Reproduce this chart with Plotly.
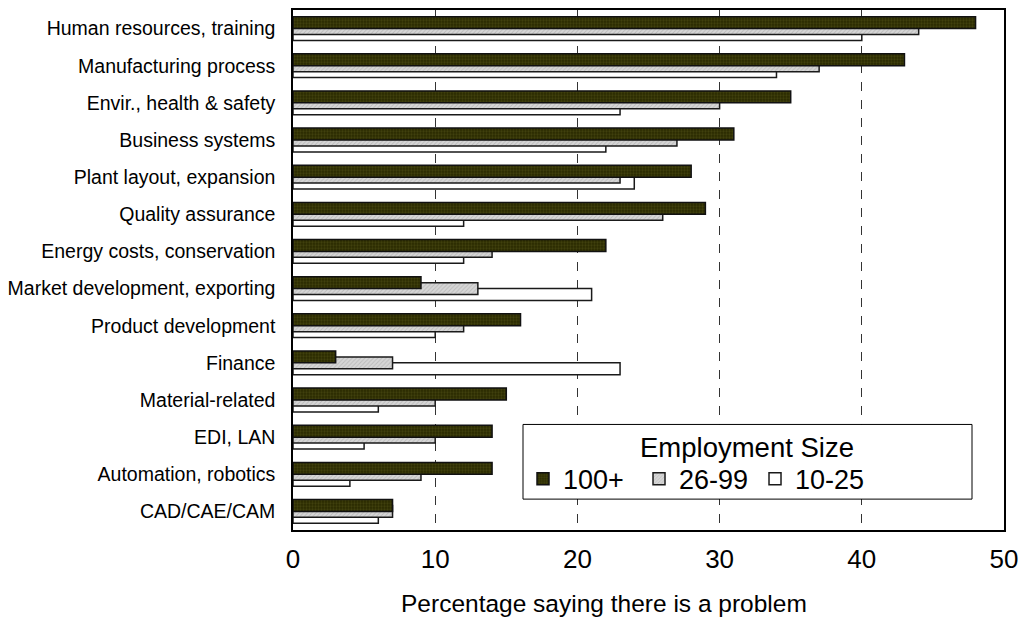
import plotly.graph_objects as go

categories = [
    "Human resources, training",
    "Manufacturing process",
    "Envir., health & safety",
    "Business systems",
    "Plant layout, expansion",
    "Quality assurance",
    "Energy costs, conservation",
    "Market development, exporting",
    "Product development",
    "Finance",
    "Material-related",
    "EDI, LAN",
    "Automation, robotics",
    "CAD/CAE/CAM",
]

size_100_plus = [48, 43, 35, 31, 28, 29, 22, 9, 16, 3, 15, 14, 14, 7]
size_26_99 = [44, 37, 30, 27, 23, 26, 14, 13, 12, 7, 10, 10, 9, 7]
size_10_25 = [40, 34, 23, 22, 24, 12, 12, 21, 10, 23, 6, 5, 4, 6]

x_ticks = [0, 10, 20, 30, 40, 50]

FONT = "Liberation Sans, Arial, sans-serif"
BAR_W = 0.32

fig = go.Figure()

# Drawn back to front so the larger-firm bar overlaps the ones beneath it
fig.add_trace(go.Bar(
    name="10-25", y=categories, x=size_10_25, orientation="h",
    width=BAR_W, offset=0,
    marker=dict(color="white", line=dict(color="#1a1a1a", width=1.5)),
))
fig.add_trace(go.Bar(
    name="26-99", y=categories, x=size_26_99, orientation="h",
    width=BAR_W, offset=-BAR_W / 2,
    marker=dict(
        color="#d2d2d2",
        line=dict(color="#1a1a1a", width=1.5),
        pattern=dict(shape="/", bgcolor="#d6d6d6", fgcolor="#a0a0a0",
                     size=3, solidity=0.3),
    ),
))
fig.add_trace(go.Bar(
    name="100+", y=categories, x=size_100_plus, orientation="h",
    width=BAR_W, offset=-BAR_W,
    marker=dict(
        color="#2e2e00",
        line=dict(color="#111111", width=1.5),
        pattern=dict(shape=".", bgcolor="#2a2a00", fgcolor="#55551a",
                     size=3, solidity=0.45),
    ),
))

# Framed legend panel with its heading; the legend entries sit inside it
fig.add_shape(
    type="rect", xref="paper", yref="paper",
    x0=0.3235, x1=0.955, y0=0.0594, y1=0.203,
    line=dict(color="black", width=1), fillcolor="white", layer="above",
)
fig.add_annotation(
    text="Employment Size", xref="paper", yref="paper",
    x=0.6387, y=0.159, xanchor="center", yanchor="middle",
    showarrow=False, font=dict(size=27.5, family=FONT, color="black"),
)
fig.add_annotation(
    text="Percentage saying there is a problem", xref="paper", yref="paper",
    x=0.437, y=-0.1418, xanchor="center", yanchor="middle",
    showarrow=False, font=dict(size=24.5, family=FONT, color="black"),
)

fig.update_layout(
    width=1026, height=620,
    barmode="overlay",
    paper_bgcolor="white", plot_bgcolor="white",
    margin=dict(l=292, r=20, t=8, b=90),
    font=dict(family=FONT, color="black"),
    showlegend=True,
    legend=dict(
        orientation="h",
        traceorder="reversed",
        entrywidth=71, entrywidthmode="pixels",
        x=0.3235, y=0.0977, xanchor="left", yanchor="middle",
        bgcolor="rgba(0,0,0,0)", borderwidth=0,
        font=dict(size=27, family=FONT),
        itemclick=False,
    ),
    xaxis=dict(
        range=[0, 50], tickvals=x_ticks,
        showgrid=True, gridcolor="#333333", griddash="dash", gridwidth=1,
        showline=True, linecolor="black", linewidth=1.5, mirror=True,
        ticks="", tickfont=dict(size=26, family=FONT),
        ticklabelstandoff=5,
        zeroline=False,
    ),
    yaxis=dict(
        type="category", autorange="reversed",
        showline=True, linecolor="black", linewidth=1.5, mirror=True,
        showgrid=False, ticks="", tickfont=dict(size=19.5, family=FONT),
        ticklabelstandoff=12,
    ),
)

fig.write_html("out.html")
